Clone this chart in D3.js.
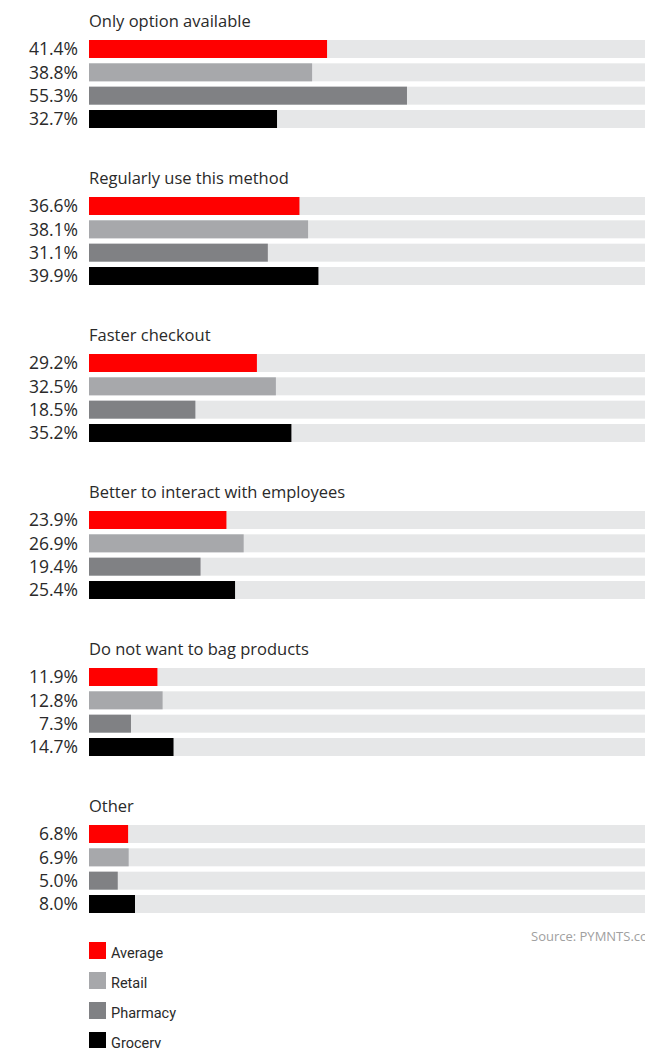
<!DOCTYPE html>
<html>
<head>
<meta charset="utf-8">
<script src="https://cdn.jsdelivr.net/npm/d3@7"></script>
<style>
  body { margin: 0; background: #fff; overflow: hidden; }
  svg { display: block; }
</style>
</head>
<body>
<div id="chart-area"></div>
<script>
var categories = ["Only option available", "Regularly use this method", "Faster checkout",
  "Better to interact with employees", "Do not want to bag products", "Other"];
var seriesNames = ["Average", "Retail", "Pharmacy", "Grocery"];
var average  = [41.4, 36.6, 29.2, 23.9, 11.9, 6.8];
var retail   = [38.8, 38.1, 32.5, 26.9, 12.8, 6.9];
var pharmacy = [55.3, 31.1, 18.5, 19.4, 7.3, 5.0];
var grocery  = [32.7, 39.9, 35.2, 25.4, 14.7, 8.0];
var seriesValues = [average, retail, pharmacy, grocery];
var colors = ["#ff0000", "#a7a8ab", "#808184", "#000000"];

var width = 645, height = 1048;

var svg = d3.select("#chart-area")
  .append("svg")
    .attr("width", width)
    .attr("height", height);

// groups of four bars
var groupY = d3.scaleBand()
  .domain(categories)
  .range([40, 40 + 157 * categories.length])
  .padding(0);

var barY = d3.scaleBand()
  .domain(seriesNames)
  .range([0, 88])
  .paddingInner(0.229)
  .paddingOuter(0);

var x = d3.scaleLinear()
  .domain([0, 100])
  .range([89, 664]);

categories.forEach(function(cat, i) {
  var g = svg.append("g")
    .attr("transform", "translate(0," + groupY(cat) + ")");

  g.append("text")
    .attr("x", 89)
    .attr("y", -13)
    .attr("font-family", "Open Sans")
    .attr("font-size", "16.5px")
    .attr("fill", "#2a2a2a")
    .text(cat);

  seriesNames.forEach(function(s, j) {
    var v = seriesValues[j][i];
    // track
    g.append("rect")
      .attr("x", x(0))
      .attr("y", barY(s))
      .attr("width", x(100) - x(0))
      .attr("height", barY.bandwidth())
      .attr("fill", "#e6e7e8");
    g.append("rect")
      .attr("x", x(0))
      .attr("y", barY(s))
      .attr("width", x(v) - x(0))
      .attr("height", barY.bandwidth())
      .attr("fill", colors[j]);
    g.append("text")
      .attr("x", 78)
      .attr("y", barY(s) + barY.bandwidth() / 2)
      .attr("dy", "0.37em")
      .attr("text-anchor", "end")
      .attr("font-family", "Open Sans")
      .attr("font-size", "17.5px")
      .attr("fill", "#2a2a2a")
      .text(v.toFixed(1) + "%");
  });
});

// source (cut at the right edge, as in the original)
svg.append("text")
  .attr("x", 531)
  .attr("y", 941)
  .attr("font-family", "Open Sans")
  .attr("font-size", "13px")
  .attr("fill", "#a0a0a0")
  .text("Source: PYMNTS.com");

// legend
var legend = svg.append("g")
  .attr("transform", "translate(89,942)");

seriesNames.forEach(function(s, j) {
  var row = legend.append("g")
    .attr("transform", "translate(0," + j * 30 + ")");
  row.append("rect")
    .attr("width", 17)
    .attr("height", 17)
    .attr("fill", colors[j]);
  row.append("text")
    .attr("x", 22)
    .attr("y", 16)
    .attr("font-family", "Roboto")
    .attr("font-size", "14.5px")
    .attr("fill", "#2a2a2a")
    .text(s);
});
</script>
</body>
</html>
